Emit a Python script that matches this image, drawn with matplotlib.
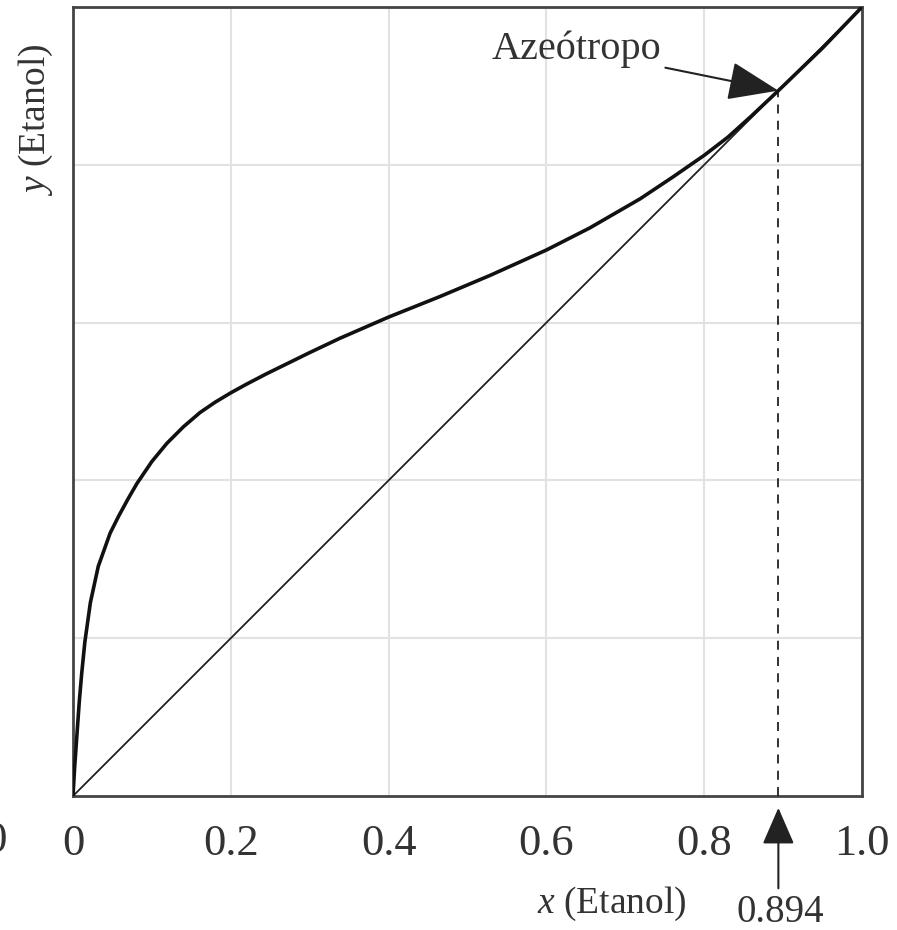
import matplotlib.pyplot as plt
import numpy as np

# equilibrium curve (ethanol-water)
x_eq = [0, 0.002, 0.0055, 0.008, 0.011, 0.015, 0.022, 0.032, 0.047, 0.058, 0.07, 0.081,
        0.10, 0.119, 0.14, 0.161, 0.18, 0.2, 0.22, 0.245, 0.3, 0.338, 0.4, 0.465, 0.529, 0.6,
        0.655, 0.719, 0.761, 0.8, 0.83, 0.86, 0.894, 0.95, 1.0]
y_eq = [0, 0.035, 0.085, 0.12, 0.155, 0.195, 0.245, 0.291, 0.333, 0.355, 0.377, 0.396,
        0.424, 0.447, 0.468, 0.486, 0.499, 0.511, 0.522, 0.535, 0.562, 0.580, 0.607, 0.633,
        0.66, 0.692, 0.72, 0.757, 0.785, 0.812, 0.835, 0.862, 0.894, 0.948, 1.0]
diag = [0, 1]
x_azeo = 0.894
x_ticks = [0, 0.2, 0.4, 0.6, 0.8, 1.0]
x_tick_labels = ['0', '0.2', '0.4', '0.6', '0.8', '1.0']
y_ticks = [0.2, 0.4, 0.6, 0.8]

plt.rcParams['font.family'] = ['Liberation Serif', 'DejaVu Serif']
plt.rcParams['mathtext.fontset'] = 'custom'
plt.rcParams['mathtext.rm'] = 'Liberation Serif'
plt.rcParams['mathtext.it'] = 'Liberation Serif:italic'

fig = plt.figure(figsize=(8.97, 9.3), dpi=100)
ax = fig.add_axes([73 / 897, 134 / 930, 789 / 897, 789 / 930])

ax.plot(diag, diag, color='#222222', lw=1.3, zorder=3)
ax.plot(x_eq, y_eq, color='#111111', lw=2.6, zorder=4,
        solid_capstyle='round', solid_joinstyle='round')
ax.plot([x_azeo, x_azeo], [0, x_azeo], color='#222222', lw=1.3, ls=(0, (5, 4)), zorder=3)

ax.set_xlim(0, 1)
ax.set_ylim(0, 1)
ax.set_xticks(x_ticks)
ax.set_xticklabels(x_tick_labels, fontsize=32, color='#333333')
ax.set_yticks(y_ticks)
ax.set_yticklabels([])
ax.tick_params(length=0, pad=20)
ax.grid(True, color='#e2e2e2', lw=1.5)
ax.set_axisbelow(True)
for s in ax.spines.values():
    s.set_color('#444444')
    s.set_linewidth(2)

# labels
ax.text(0.683, -0.137, r'$x$ (Etanol)', transform=ax.transAxes, ha='center', va='center',
        fontsize=27, color='#333333')
fig.text(36 / 897, 1 - 120 / 930, r'$y$ (Etanol)', rotation=90, ha='center', va='center',
         fontsize=27, color='#333333')

# azeotrope annotation
ax.annotate('Azeótropo', xy=(x_azeo, x_azeo), xytext=(0.638, 0.946),
            ha='center', va='center', fontsize=29, color='#333333',
            arrowprops=dict(arrowstyle='-|>,head_length=1.1,head_width=0.42', color='#222222',
                            lw=1.5, shrinkA=1, shrinkB=0))

# arrow under the axis pointing to the azeotrope composition
ax.annotate('', xy=(x_azeo, -0.015), xytext=(x_azeo, -0.117), annotation_clip=False,
            arrowprops=dict(arrowstyle='-|>,head_length=2.3,head_width=1.0', color='#222222',
                            lw=1.5, shrinkA=0, shrinkB=0, mutation_scale=10))
ax.text(x_azeo + 0.003, -0.148, '0.894', ha='center', va='center', fontsize=28,
        color='#333333')

# partial label cut at the left border
fig.text(8 / 897, 1 - 841 / 930, '1.0', ha='right', va='center', fontsize=32, color='#333333')

fig.savefig('out.png', dpi=100)
